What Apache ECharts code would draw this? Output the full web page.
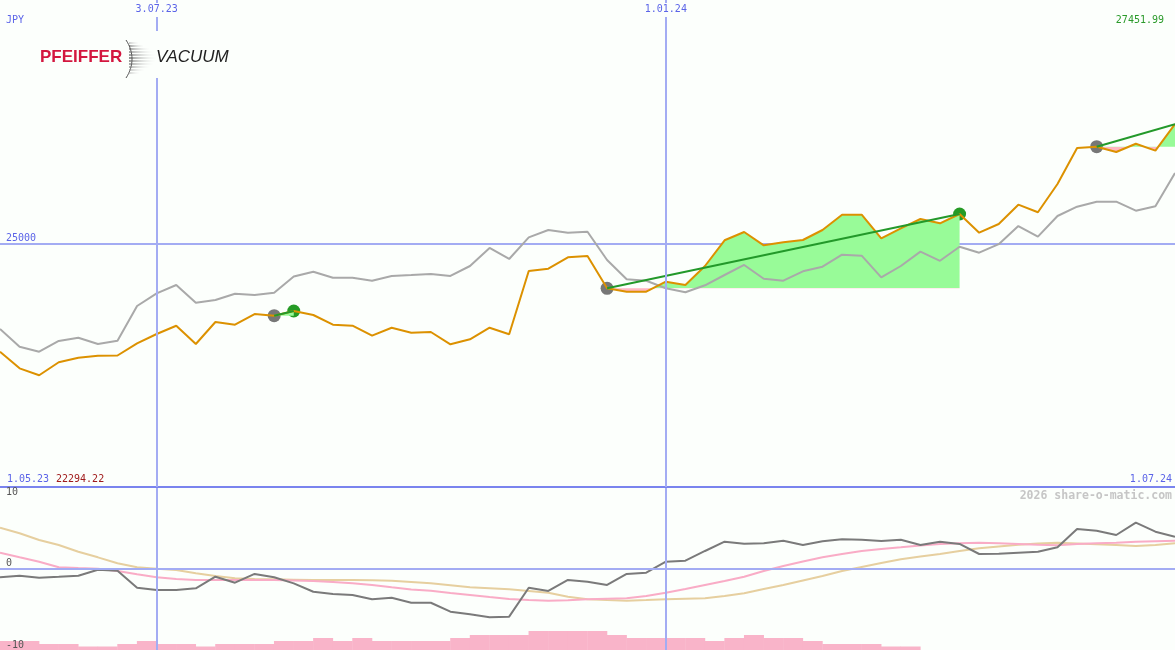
<!DOCTYPE html>
<html><head><meta charset="utf-8">
<script src="https://cdn.jsdelivr.net/npm/echarts@6/dist/echarts.min.js"></script>
<style>html,body{margin:0;padding:0;background:#fcfffc}#c{width:1175px;height:650px}</style>
</head><body><div id="c"></div>
<script>
// ---- data ----
const dates = ['2023-05-08','2023-05-15','2023-05-22','2023-05-29','2023-06-05','2023-06-12','2023-06-19','2023-06-26','2023-07-03','2023-07-10','2023-07-17','2023-07-24','2023-07-31','2023-08-07','2023-08-14','2023-08-21','2023-08-28','2023-09-04','2023-09-11','2023-09-18','2023-09-25','2023-10-02','2023-10-09','2023-10-16','2023-10-23','2023-10-30','2023-11-06','2023-11-13','2023-11-20','2023-11-27','2023-12-04','2023-12-11','2023-12-18','2023-12-25','2024-01-01','2024-01-08','2024-01-15','2024-01-22','2024-01-29','2024-02-05','2024-02-12','2024-02-19','2024-02-26','2024-03-04','2024-03-11','2024-03-18','2024-03-25','2024-04-01','2024-04-08','2024-04-15','2024-04-22','2024-04-29','2024-05-06','2024-05-13','2024-05-20','2024-05-27','2024-06-03','2024-06-10','2024-06-17','2024-06-24','2024-07-01'];
const price = [22778,22437,22294.22,22561,22655,22696,22700,22951,23142,23312,22936,23388,23333,23552,23518,23614,23532,23333,23312,23107,23271,23168,23183,22930,23033,23271,23136,24435,24483,24717,24743,24080,24010,24010,24216,24148,24538,25066,25236,24963,25025,25072,25277,25591,25591,25107,25312,25503,25415,25606,25222,25400,25797,25641,26222,26961,26988,26879,27049,26906,27451.99];
const compare = [23244,22881,22778,22998,23066,22936,23004,23717,23977,24148,23784,23840,23969,23943,23990,24322,24421,24298,24298,24236,24333,24353,24374,24333,24538,24908,24682,25127,25277,25222,25242,24661,24265,24236,24080,23998,24142,24353,24559,24277,24236,24429,24524,24770,24750,24306,24538,24832,24645,24934,24811,24986,25359,25140,25565,25756,25856,25858,25674,25764,26448];
const oscMain = [-1.08,-0.88,-1.13,-1.01,-0.88,-0.15,-0.27,-2.36,-2.64,-2.64,-2.43,-1.01,-1.74,-0.67,-1.08,-1.82,-2.85,-3.13,-3.25,-3.78,-3.58,-4.20,-4.20,-5.30,-5.62,-5.99,-5.91,-2.36,-2.76,-1.41,-1.62,-2.02,-0.67,-0.52,0.83,0.96,2.15,3.29,3.04,3.09,3.41,2.88,3.34,3.58,3.53,3.37,3.53,2.88,3.29,3.01,1.78,1.82,1.94,2.06,2.60,4.85,4.64,4.11,5.62,4.52,3.90];
const oscPink = [1.94,1.37,0.83,0.15,0.06,-0.02,-0.31,-0.71,-1.08,-1.29,-1.41,-1.41,-1.41,-1.41,-1.41,-1.47,-1.53,-1.66,-1.82,-2.02,-2.31,-2.58,-2.72,-3.01,-3.25,-3.50,-3.74,-3.87,-3.95,-3.90,-3.78,-3.72,-3.66,-3.37,-2.97,-2.52,-2.02,-1.53,-1.01,-0.31,0.31,0.86,1.37,1.78,2.15,2.39,2.60,2.82,3.01,3.09,3.17,3.09,3.01,2.92,2.85,3.01,3.09,3.17,3.29,3.35,3.41];
const oscTan = [5.01,4.32,3.50,2.88,2.06,1.37,0.64,0.15,-0.02,-0.18,-0.59,-0.92,-1.20,-1.29,-1.33,-1.37,-1.41,-1.41,-1.41,-1.45,-1.50,-1.66,-1.82,-2.06,-2.31,-2.43,-2.55,-2.76,-2.97,-3.46,-3.78,-3.87,-3.95,-3.87,-3.78,-3.72,-3.66,-3.37,-3.04,-2.52,-2.02,-1.47,-0.92,-0.31,0.18,0.67,1.13,1.47,1.78,2.15,2.48,2.70,2.92,3.07,3.17,3.07,2.97,2.88,2.76,2.88,3.09];
const volume = [9,9,6,6,3.5,3.5,6,9,6,6,3.5,6,6,6,9,9,12,9,12,9,9,9,9,12,15,15,15,19,19,19,19,15,12,12,12,12,9,12,15,12,12,9,6,6,6,3.5,3.5];
const trendStart = [14, 31, 56];
const trendEnd = [15, 49, 60];
const trendDone = [true, true, false];
const dateTicks = ['2023-07-03', '2024-01-01'];
const dateTickLabels = ['3.07.23', '1.01.24'];
const currency = 'JPY';
const rangeLabels = ['1.05.23', '1.07.24'];
const watermark = '2026 share-o-matic.com';

// ---- helpers ----
const T = s => { const p = s.split('-').map(Number); return Date.UTC(p[0], p[1] - 1, p[2]); };
const pts = (arr, from) => arr.map((v, j) => [T(dates[from + j]), v]);
const tickVals = dateTicks.map(T);
const maxP = Math.max(...price), minP = Math.min(...price);

const BLUE = '#5b64e8', GRIDC = '#a3acf3', GREEN_FILL = '#98fb98', PINK_FILL = '#ffb6c1';
const MONO = '"DejaVu Sans Mono", monospace';
const Y_MIN = 20000, Y_MAX = 30000;

const series = [];
const visualMaps = [];
// volume bars (bottom panel)
series.push({
  type: 'bar', xAxisIndex: 1, yAxisIndex: 2, barWidth: 20, silent: true, z: 1,
  itemStyle: { color: '#f9b4c9' },
  data: volume.map((v, j) => [(T(dates[j]) + T(dates[j + 1])) / 2, v])
});
// oscillator lines
series.push({ type: 'line', xAxisIndex: 1, yAxisIndex: 1, data: pts(oscTan, 0), showSymbol: false, lineStyle: { color: '#e6cf9f', width: 2 } });
series.push({ type: 'line', xAxisIndex: 1, yAxisIndex: 1, data: pts(oscPink, 0), showSymbol: false, lineStyle: { color: '#f9acc6', width: 2 } });
series.push({ type: 'line', xAxisIndex: 1, yAxisIndex: 1, data: pts(oscMain, 0), showSymbol: false, lineStyle: { color: '#7a7a7a', width: 2 } });
// trend fills
trendStart.forEach((s, k) => {
  const e = trendEnd[k];
  visualMaps.push({
    type: 'piecewise', show: false, seriesIndex: series.length, dimension: 1,
    pieces: [{ gte: Y_MIN, lt: price[s], color: PINK_FILL }, { gte: price[s], lte: Y_MAX, color: GREEN_FILL }],
    outOfRange: { color: GREEN_FILL }
  });
  series.push({
    type: 'line', xAxisIndex: 0, yAxisIndex: 0, showSymbol: false, silent: true,
    data: pts(price.slice(s, e + 1), s),
    lineStyle: { opacity: 0 },
    areaStyle: { origin: price[s], opacity: 1 }
  });
});
// comparison + price
series.push({ type: 'line', xAxisIndex: 0, yAxisIndex: 0, data: pts(compare, 0), showSymbol: false, lineStyle: { color: '#a9a9a9', width: 2 } });
series.push({ type: 'line', xAxisIndex: 0, yAxisIndex: 0, data: pts(price, 0), showSymbol: false, lineStyle: { color: '#dc9100', width: 2 } });
// trend lines
trendStart.forEach((s, k) => {
  const e = trendEnd[k];
  series.push({
    type: 'line', xAxisIndex: 0, yAxisIndex: 0, showSymbol: false,
    data: [[T(dates[s]), price[s]], [T(dates[e]), price[e]]],
    lineStyle: { color: '#23992a', width: 2 }
  });
});
series.push({
  type: 'scatter', xAxisIndex: 0, yAxisIndex: 0, symbolSize: 13,
  itemStyle: { color: '#777777', opacity: 1 },
  data: trendStart.map(s => [T(dates[s]), price[s]])
});
series.push({
  type: 'scatter', xAxisIndex: 0, yAxisIndex: 0, symbolSize: 13,
  itemStyle: { color: '#259b25', opacity: 1 },
  data: trendEnd.filter((e, k) => trendDone[k]).map(e => [T(dates[e]), price[e]])
});

const lbl = (txt, x, y, color, align) => ({
  type: 'text', x, y, z: 100,
  style: { text: txt, fill: color, font: '10px ' + MONO, align: align || 'left', verticalAlign: 'top' }
});

const streaks = [];
[[46,14,'#333'],[49,20,'#444'],[52,24,'#555'],[55,26,'#444'],[58,27,'#333'],[61,26,'#444'],[64,24,'#555'],[67,20,'#666'],[70,15,'#888'],[43,9,'#888'],[73,10,'#999']].forEach(r => {
  streaks.push({ type: 'line', z: 101, shape: { x1: 129, y1: r[0], x2: 129 + r[1], y2: r[0] },
    style: { stroke: new echarts.graphic.LinearGradient(0, 0, 1, 0, [{ offset: 0, color: r[2] }, { offset: 1, color: 'rgba(255,255,255,0)' }]), lineWidth: 1.3 } });
});

const xMin = T(dates[0]), xMax = T(dates[dates.length - 1]);
const option = {
  backgroundColor: '#fcfffc',
  animation: false,
  grid: [
    { left: 0, right: 0, top: 0, height: 487 },
    { left: 0, right: 0, top: 487, height: 163 }
  ],
  xAxis: [
    { type: 'value', gridIndex: 0, position: 'top', min: xMin, max: xMax, z: 20,
      axisLine: { show: false },
      axisTick: { show: false, customValues: tickVals },
      axisLabel: { customValues: tickVals, inside: true, margin: 3, color: BLUE, fontFamily: MONO, fontSize: 10,
        backgroundColor: '#fcfffc', padding: [1, 2, 3, 2],
        formatter: v => { const k = tickVals.indexOf(+v); return k >= 0 ? dateTickLabels[k] : ''; } },
      splitLine: { show: true, lineStyle: { color: GRIDC, width: 2 } } },
    { type: 'value', gridIndex: 1, position: 'top', min: xMin, max: xMax, z: 5,
      axisLine: { show: true, onZero: false, lineStyle: { color: '#7a84ee', width: 2 } },
      axisTick: { show: false, customValues: tickVals },
      axisLabel: { show: false, customValues: tickVals },
      splitLine: { show: true, lineStyle: { color: GRIDC, width: 2 } } }
  ],
  yAxis: [
    { type: 'value', gridIndex: 0, min: Y_MIN, max: Y_MAX, interval: 5000,
      axisLine: { show: false }, axisTick: { show: false },
      axisLabel: { inside: true, margin: 6, showMinLabel: false, showMaxLabel: false, verticalAlign: 'bottom', color: BLUE, fontFamily: MONO, fontSize: 10, formatter: v => String(v) },
      splitLine: { show: true, showMinLine: false, showMaxLine: false, lineStyle: { color: GRIDC, width: 2 } } },
    { type: 'value', gridIndex: 1, min: -10, max: 10, interval: 10, z: 30,
      axisLine: { show: false }, axisTick: { show: false },
      axisLabel: { inside: true, margin: 6, verticalAlign: 'bottom', verticalAlignMaxLabel: 'top', verticalAlignMinLabel: 'bottom', color: '#555', fontFamily: MONO, fontSize: 10 },
      splitLine: { show: true, showMinLine: false, showMaxLine: false, lineStyle: { color: GRIDC, width: 2 } } },
    { type: 'value', gridIndex: 1, min: 0, max: 163, show: false }
  ],
  visualMap: visualMaps,
  series,
  graphic: [
    lbl(currency, 6, 15, BLUE),
    lbl(maxP.toFixed(2), 1164, 15, '#2a9a2a', 'right'),
    lbl(rangeLabels[0], 7, 474, BLUE),
    lbl(minP.toFixed(2), 56, 474, '#a01c1c'),
    lbl(rangeLabels[1], 1172, 474, BLUE, 'right'),
    { type: 'text', x: 1172, y: 490, z: 100, style: { text: watermark, fill: '#c6c6c6', font: 'bold 11.5px ' + MONO, align: 'right', verticalAlign: 'top' } },
    { type: 'rect', z: 99, shape: { x: 30, y: 31, width: 210, height: 47 }, style: { fill: '#fcfffc' } },
    { type: 'text', x: 40, y: 49, z: 101, style: { text: 'PFEIFFER', fill: '#d3173f', font: 'bold 17px "Liberation Sans", Arial, sans-serif' } },
    { type: 'text', x: 156, y: 49, z: 101, style: { text: 'VACUUM', fill: '#222', font: 'italic 17px "Liberation Sans", Arial, sans-serif' } },
    { type: 'bezierCurve', z: 101, shape: { x1: 126, y1: 40, x2: 126, y2: 78, cpx1: 134, cpy1: 52, cpx2: 134, cpy2: 66 }, style: { stroke: '#555', lineWidth: 1, fill: null } }
  ].concat(streaks)
};
echarts.init(document.getElementById('c')).setOption(option);
</script>
</body></html>
